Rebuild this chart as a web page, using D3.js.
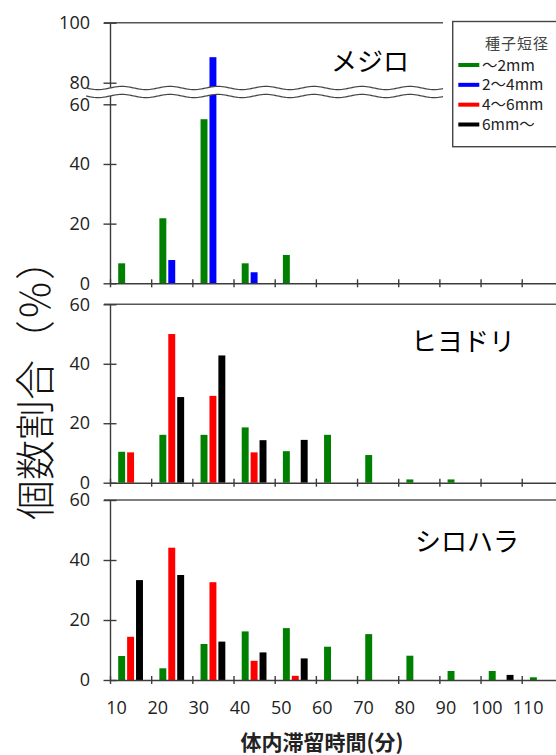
<!DOCTYPE html>
<html>
<head>
<meta charset="utf-8">
<script src="https://d3js.org/d3.v7.min.js"></script>
<style>
body { margin: 0; background: #fff; }
svg { display: block; }
</style>
</head>
<body>
<script>
// Datos (porcentaje por intervalo de 10 minutos)
var intervalos = [10, 20, 30, 40, 50, 60, 70, 80, 90, 100, 110];
var ticksX = [10, 20, 30, 40, 50, 60, 70, 80, 90, 100, 110, 120];

var mejiroVerde = [6.7, 21.8, 55, 6.7, 9.5, 0, 0, 0, 0, 0, 0];
var mejiroAzul  = [0, 7.8, 88.5, 3.7, 0, 0, 0, 0, 0, 0, 0];

var hiyodoriVerde = [10.4, 16.1, 16.1, 18.6, 10.6, 16.1, 9.3, 1.1, 1.1, 0, 0];
var hiyodoriRojo  = [10.2, 50, 29.2, 10.2, 0, 0, 0, 0, 0, 0, 0];
var hiyodoriNegro = [0, 28.8, 42.8, 14.3, 14.4, 0, 0, 0, 0, 0, 0];

var shiroharaVerde = [8, 3.9, 12, 16.2, 17.3, 11.1, 15.3, 8.1, 3, 3, 0.9];
var shiroharaRojo  = [14.4, 44.1, 32.6, 6.4, 1.4, 0, 0, 0, 0, 0, 0];
var shiroharaNegro = [33.3, 35, 12.8, 9.2, 7.2, 0, 0, 0, 0, 1.7, 0];

var leyendaTitulo = "種子短径";
var leyendaNombres = ["～2mm", "2～4mm", "4～6mm", "6mm～"];
var colores = ["#008000", "#0000ff", "#ff0000", "#000000"];

var width = 556;
var height = 755;
var fuenteNum = '"Open Sans", "Noto Sans", sans-serif';
var fuenteJp = '"Noto Sans CJK JP", sans-serif';
var colorEje = "#3c3c3c";

var elementosvg = d3.select("body")
                    .append("svg")
                    .attr("width", width)
                    .attr("height", height);

var escalaX = d3.scaleLinear()
                .domain([10, 120])
                .range([110, 562.9]);

var anchoIntervalo = escalaX(20) - escalaX(10);

// posicion de cada barra dentro del intervalo
var escalaSlot = d3.scaleBand()
                   .domain([0, 1, 2])
                   .range([0, anchoIntervalo])
                   .paddingInner(0.222)
                   .paddingOuter(0.92);

var paneles = [
    {
        nombre: "メジロ",
        escalaY: d3.scaleLinear().domain([0, 60, 80, 100]).range([283.3, 104.3, 82.7, 22.7]),
        ticksY: [0, 20, 40, 60, 80, 100],
        finLinea: 443,
        titulo: [331, 71],
        series: [
            { valores: mejiroVerde, slot: 0, color: colores[0] },
            { valores: mejiroAzul, slot: 1, color: colores[1] }
        ]
    },
    {
        nombre: "ヒヨドリ",
        escalaY: d3.scaleLinear().domain([0, 60]).range([482.7, 304.3]),
        ticksY: [0, 20, 40, 60],
        finLinea: 556,
        titulo: [411, 351],
        series: [
            { valores: hiyodoriVerde, slot: 0, color: colores[0] },
            { valores: hiyodoriRojo, slot: 1, color: colores[2] },
            { valores: hiyodoriNegro, slot: 2, color: colores[3] }
        ]
    },
    {
        nombre: "シロハラ",
        escalaY: d3.scaleLinear().domain([0, 60]).range([680, 500]),
        ticksY: [0, 20, 40, 60],
        finLinea: 556,
        titulo: [415, 551],
        series: [
            { valores: shiroharaVerde, slot: 0, color: colores[0] },
            { valores: shiroharaRojo, slot: 1, color: colores[2] },
            { valores: shiroharaNegro, slot: 2, color: colores[3] }
        ]
    }
];

paneles.forEach(function (p, i) {
    var g = elementosvg.append("g");
    var escalaY = p.escalaY;
    var ultimo = i == paneles.length - 1;

    // linea superior del marco
    var yTop = escalaY(p.ticksY[p.ticksY.length - 1]);
    g.append("line")
     .attr("x1", 104).attr("x2", p.finLinea)
     .attr("y1", yTop).attr("y2", yTop)
     .attr("stroke", "#555")
     .attr("stroke-width", 1.4);

    // barras
    p.series.forEach(function (s) {
        var datos = intervalos.map(function (d, k) { return { inicio: d, valor: s.valores[k] }; })
                              .filter(function (d) { return d.valor > 0; });
        g.selectAll("rect.s" + s.slot)
         .data(datos)
         .join("rect")
         .attr("x", function (d) { return escalaX(d.inicio) + escalaSlot(s.slot); })
         .attr("y", function (d) { return escalaY(d.valor); })
         .attr("width", escalaSlot.bandwidth())
         .attr("height", function (d) { return escalaY(0) - escalaY(d.valor); })
         .attr("fill", s.color);
    });

    // eje Y
    var ejeY = d3.axisLeft(escalaY)
                 .tickValues(p.ticksY)
                 .tickSize(6.5)
                 .tickSizeOuter(0)
                 .tickPadding(13.5);
    var gY = g.append("g")
              .attr("transform", "translate(110,0)")
              .call(ejeY)
              .attr("font-size", 18)
              .attr("font-family", fuenteNum)
              .attr("color", colorEje);
    gY.selectAll(".tick line").attr("x1", 6.5).attr("stroke-width", 1.4);
    gY.select(".domain").attr("stroke-width", 1.4);
    gY.selectAll(".tick text").attr("fill", "#222");

    // eje X
    var ejeX = d3.axisBottom(escalaX)
                 .tickValues(ticksX)
                 .tickSize(4)
                 .tickSizeOuter(0)
                 .tickPadding(17.5)
                 .tickFormat(function (d) { return ultimo && d <= 110 ? d : ""; });
    var gX = g.append("g")
              .attr("transform", "translate(0," + escalaY(0) + ")")
              .call(ejeX)
              .attr("font-size", 18)
              .attr("font-family", fuenteNum)
              .attr("color", colorEje);
    gX.selectAll(".tick line").attr("y1", -4).attr("stroke-width", 1.4);
    gX.select(".domain").attr("stroke-width", 1.4);
    gX.selectAll(".tick text").attr("x", 6).attr("fill", "#222");

    // nombre del ave
    g.append("text")
     .attr("x", p.titulo[0])
     .attr("y", p.titulo[1])
     .attr("font-family", fuenteJp)
     .attr("font-size", 26)
     .attr("fill", "#000")
     .text(p.nombre);
});

// corte del eje (ondas) en el panel de メジロ
var ondaX = d3.range(86, 443.5, 1);
var onda = function (yc) {
    return ondaX.map(function (x) { return [x, yc + 1.6 * Math.sin((x - 86) / 48 * 2 * Math.PI)]; });
};
var ondaArriba = onda(88);
var ondaAbajo = onda(96);
elementosvg.append("path")
           .attr("d", d3.line()(ondaArriba.concat(ondaAbajo.slice().reverse())) + "Z")
           .attr("fill", "#fff");
[ondaArriba, ondaAbajo].forEach(function (pts) {
    elementosvg.append("path")
               .attr("d", d3.line()(pts))
               .attr("fill", "none")
               .attr("stroke", "#444")
               .attr("stroke-width", 1.2);
});

// leyenda
var leyenda = elementosvg.append("g");
leyenda.append("rect")
       .attr("x", 452.7).attr("y", 21.5)
       .attr("width", 120).attr("height", 125.2)
       .attr("fill", "#fff")
       .attr("stroke", "#444")
       .attr("stroke-width", 1.4);
leyenda.append("text")
       .attr("x", 517).attr("y", 49)
       .attr("text-anchor", "middle")
       .attr("font-family", fuenteJp)
       .attr("font-size", 15)
       .attr("letter-spacing", 1)
       .attr("fill", "#444")
       .text(leyendaTitulo);
var escalaLeyenda = d3.scalePoint()
                      .domain(leyendaNombres)
                      .range([65, 124.5]);
leyenda.selectAll("line.item")
       .data(leyendaNombres)
       .join("line")
       .attr("class", "item")
       .attr("x1", 458.3).attr("x2", 479.3)
       .attr("y1", function (d) { return escalaLeyenda(d); })
       .attr("y2", function (d) { return escalaLeyenda(d); })
       .attr("stroke", function (d, k) { return colores[k]; })
       .attr("stroke-width", 4);
leyenda.selectAll("text.item")
       .data(leyendaNombres)
       .join("text")
       .attr("class", "item")
       .attr("x", 482)
       .attr("y", function (d) { return escalaLeyenda(d); })
       .attr("dy", "0.36em")
       .attr("font-family", fuenteJp)
       .attr("font-size", 15.5)
       .attr("fill", "#222")
       .text(function (d) { return d; });

// titulos de ejes
elementosvg.append("text")
           .attr("transform", "translate(33,380) rotate(-90)")
           .attr("text-anchor", "middle")
           .attr("dominant-baseline", "central")
           .attr("font-family", fuenteJp)
           .attr("font-weight", 300)
           .attr("font-size", 40)
           .attr("fill", "#111")
           .text("個数割合（％）");

elementosvg.append("text")
           .attr("x", 322)
           .attr("y", 750)
           .attr("text-anchor", "middle")
           .attr("font-family", fuenteJp)
           .attr("font-weight", "bold")
           .attr("font-size", 21)
           .attr("fill", "#222")
           .text("体内滞留時間(分)");
</script>
</body>
</html>
